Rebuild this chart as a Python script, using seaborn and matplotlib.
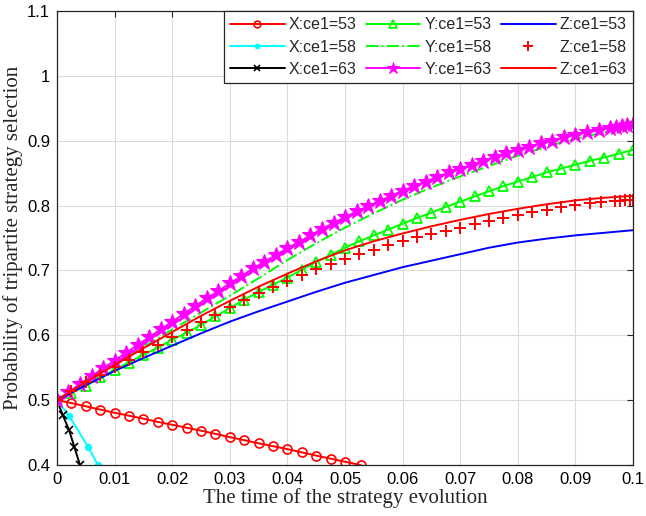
import matplotlib
matplotlib.use("Agg")
import matplotlib.pyplot as plt
import seaborn as sns
import numpy as np
from matplotlib.ticker import FuncFormatter

# ---------------- data ----------------
t_grid = [0.0, 0.0025, 0.005, 0.0075, 0.01, 0.0125, 0.015, 0.0175, 0.02, 0.0225,
          0.025, 0.0275, 0.03, 0.0325, 0.035, 0.0375, 0.04, 0.0425, 0.045, 0.0475,
          0.05, 0.0525, 0.055, 0.0575, 0.06, 0.0625, 0.065, 0.0675, 0.07, 0.0725,
          0.075, 0.0775, 0.08, 0.0825, 0.085, 0.0875, 0.09, 0.0925, 0.095, 0.0975, 0.1]

t_coarse = [0.0, 0.005, 0.01, 0.015, 0.02, 0.025, 0.03, 0.035, 0.04, 0.045, 0.05,
            0.055, 0.06, 0.065, 0.07, 0.075, 0.08, 0.085, 0.09, 0.095, 0.1]

t_x53 = [0.0, 0.0025, 0.005, 0.0075, 0.01, 0.0125, 0.015, 0.0175, 0.02, 0.0225,
         0.025, 0.0275, 0.03, 0.0325, 0.035, 0.0375, 0.04, 0.0425, 0.045, 0.0475,
         0.05, 0.0527]
x_ce53 = [0.5, 0.4955, 0.4905, 0.4855, 0.4805, 0.476, 0.4715, 0.4665, 0.462, 0.4575,
          0.453, 0.448, 0.443, 0.4383, 0.4335, 0.429, 0.4245, 0.4195, 0.4145, 0.4098,
          0.405, 0.400]

t_x58 = [0.0, 0.0021, 0.0054, 0.0071]
x_ce58 = [0.5, 0.476, 0.428, 0.400]

t_x63 = [0.0, 0.001, 0.0021, 0.003, 0.004]
x_ce63 = [0.5, 0.477, 0.454, 0.428, 0.400]

y_ce53 = [0.500, 0.511, 0.522, 0.535, 0.547, 0.558, 0.570, 0.581, 0.593, 0.604,
          0.616, 0.629, 0.642, 0.655, 0.667, 0.678, 0.689, 0.701, 0.713, 0.724,
          0.735, 0.745, 0.754, 0.763, 0.772, 0.781, 0.789, 0.798, 0.806, 0.814,
          0.822, 0.830, 0.837, 0.844, 0.851, 0.857, 0.863, 0.869, 0.874, 0.880, 0.886]

y_ce58 = [0.500, 0.530, 0.556, 0.582, 0.609, 0.635, 0.661, 0.688, 0.716, 0.742, 0.766,
          0.788, 0.809, 0.828, 0.845, 0.861, 0.877, 0.891, 0.903, 0.913, 0.921]

t_y63 = [0.0, 0.002, 0.004, 0.006, 0.008, 0.01, 0.012, 0.014, 0.016, 0.018,
         0.02, 0.022, 0.024, 0.026, 0.028, 0.03, 0.032, 0.034, 0.036, 0.038,
         0.04, 0.042, 0.044, 0.046, 0.048, 0.05, 0.052, 0.054, 0.056, 0.058,
         0.06, 0.062, 0.064, 0.066, 0.068, 0.07, 0.072, 0.074, 0.076, 0.078,
         0.08, 0.082, 0.084, 0.086, 0.088, 0.09, 0.092, 0.094, 0.096, 0.097,
         0.098, 0.099, 0.1]
y_ce63 = [0.500, 0.512, 0.525, 0.537, 0.549, 0.561, 0.573, 0.585, 0.597, 0.609,
          0.621, 0.633, 0.645, 0.657, 0.668, 0.680, 0.691, 0.703, 0.713, 0.724,
          0.734, 0.744, 0.754, 0.764, 0.773, 0.782, 0.791, 0.799, 0.807, 0.815,
          0.823, 0.830, 0.837, 0.844, 0.851, 0.857, 0.863, 0.869, 0.875, 0.881,
          0.886, 0.891, 0.896, 0.900, 0.905, 0.909, 0.913, 0.916, 0.920, 0.9215,
          0.923, 0.924, 0.925]

z_ce53 = [0.500, 0.523, 0.545, 0.565, 0.584, 0.603, 0.621, 0.637, 0.652, 0.667, 0.681,
          0.693, 0.705, 0.715, 0.725, 0.735, 0.743, 0.749, 0.754, 0.758, 0.762]

t_z58 = [0.0, 0.0025, 0.005, 0.0075, 0.01, 0.0125, 0.015, 0.0175, 0.02, 0.0225,
         0.025, 0.0275, 0.03, 0.0325, 0.035, 0.0375, 0.04, 0.0425, 0.045, 0.0475,
         0.05, 0.0525, 0.055, 0.0575, 0.06, 0.0625, 0.065, 0.0675, 0.07, 0.0725,
         0.075, 0.0775, 0.08, 0.0825, 0.085, 0.0875, 0.09, 0.0925, 0.0945,
         0.0969, 0.0977, 0.0986, 0.0994, 0.1]
z_ce58 = [0.500, 0.514, 0.528, 0.539, 0.551, 0.562, 0.574, 0.585, 0.597, 0.608,
          0.620, 0.632, 0.644, 0.655, 0.665, 0.675, 0.684, 0.693, 0.702, 0.710,
          0.718, 0.725, 0.732, 0.739, 0.745, 0.751, 0.756, 0.761, 0.766, 0.771,
          0.776, 0.781, 0.786, 0.790, 0.793, 0.797, 0.801, 0.804, 0.805,
          0.807, 0.807, 0.808, 0.808, 0.808]

z_ce63 = [0.500, 0.528, 0.554, 0.580, 0.605, 0.630, 0.653, 0.675, 0.695, 0.714, 0.731,
          0.745, 0.757, 0.768, 0.778, 0.787, 0.795, 0.802, 0.808, 0.812, 0.815]

x_ticks = [0, 0.01, 0.02, 0.03, 0.04, 0.05, 0.06, 0.07, 0.08, 0.09, 0.1]
y_ticks = [0.4, 0.5, 0.6, 0.7, 0.8, 0.9, 1.0, 1.1]

# ---------------- style ----------------
sns.set_style("white")
plt.rcParams['font.family'] = ['Liberation Sans', 'DejaVu Sans']
plt.rcParams['axes.unicode_minus'] = False

fig = plt.figure(figsize=(6.46, 5.16), dpi=100)
ax = fig.add_axes([0.0882, 0.0988, 0.8918, 0.8800])

lw = 1.4
RED, GREEN, BLUE, CYAN, MAG = (1, 0, 0), (0, 1, 0), (0, 0, 1), (0, 1, 1), (1, 0, 1)

common = dict(ax=ax, sort=False, estimator=None)

sns.lineplot(x=t_x53, y=x_ce53, color=RED, lw=lw, marker='o', markersize=6.5,
             markerfacecolor='none', markeredgecolor=RED, markeredgewidth=1.2,
             label='X:ce1=53', **common)
sns.lineplot(x=t_x58, y=x_ce58, color=CYAN, lw=lw, marker='o', markersize=4.5,
             markerfacecolor=CYAN, markeredgecolor=CYAN,
             label='X:ce1=58', **common)
sns.lineplot(x=t_x63, y=x_ce63, color='black', lw=lw, marker='x', markersize=5.5,
             markeredgewidth=1.2, markeredgecolor='black',
             label='X:ce1=63', **common)
sns.lineplot(x=t_grid, y=y_ce53, color=GREEN, lw=lw, marker='^', markersize=7.5,
             markerfacecolor='none', markeredgecolor=GREEN, markeredgewidth=1.3,
             label='Y:ce1=53', **common)
sns.lineplot(x=t_coarse, y=y_ce58, color=GREEN, lw=lw, linestyle='-.',
             label='Y:ce1=58', **common)
sns.lineplot(x=t_y63, y=y_ce63, color=MAG, lw=lw, marker='*', markersize=12,
             markerfacecolor=MAG, markeredgecolor=MAG,
             label='Y:ce1=63', **common)
sns.lineplot(x=t_coarse, y=z_ce53, color=BLUE, lw=lw,
             label='Z:ce1=53', **common)
sns.lineplot(x=t_z58, y=z_ce58, color=RED, lw=0, linestyle='none', marker='+',
             markersize=9, markeredgewidth=1.4, markeredgecolor=RED,
             label='Z:ce1=58', **common)
sns.lineplot(x=t_coarse, y=z_ce63, color=RED, lw=lw,
             label='Z:ce1=63', **common)

ax.set_xlim(0, 0.1)
ax.set_ylim(0.4, 1.1)
ax.set_xticks(x_ticks)
ax.set_yticks(y_ticks)
fmt = FuncFormatter(lambda v, p: f"{v:g}")
ax.xaxis.set_major_formatter(fmt)
ax.yaxis.set_major_formatter(fmt)

ax.grid(True, color=(0.86, 0.86, 0.86), lw=0.8)
ax.set_axisbelow(True)
for s in ax.spines.values():
    s.set_color((0.15, 0.15, 0.15))
    s.set_linewidth(0.9)
    s.set_visible(True)
ax.tick_params(direction='in', length=4, width=0.8, colors=(0.15, 0.15, 0.15),
               labelsize=12, top=True, right=True, labeltop=False, labelright=False,
               pad=5)
for lab in ax.get_xticklabels() + ax.get_yticklabels():
    lab.set_color('black')

ax.set_xlabel('The time of the strategy evolution', family=['Liberation Serif'],
              fontsize=15, labelpad=1)
ax.set_ylabel('Probability of tripartite strategy selection', family=['Liberation Serif'],
              fontsize=15, labelpad=3)

leg = ax.legend(ncol=3, loc='upper right', bbox_to_anchor=(1.0, 1.0), borderaxespad=0,
                fontsize=11.5, frameon=True, fancybox=False, framealpha=1,
                edgecolor=(0.15, 0.15, 0.15), handlelength=3.4, handletextpad=0.25,
                columnspacing=0.6, borderpad=0.4, labelspacing=0.45, markerscale=0.75)
leg.get_frame().set_linewidth(0.9)

fig.savefig('out.png', dpi=100)
